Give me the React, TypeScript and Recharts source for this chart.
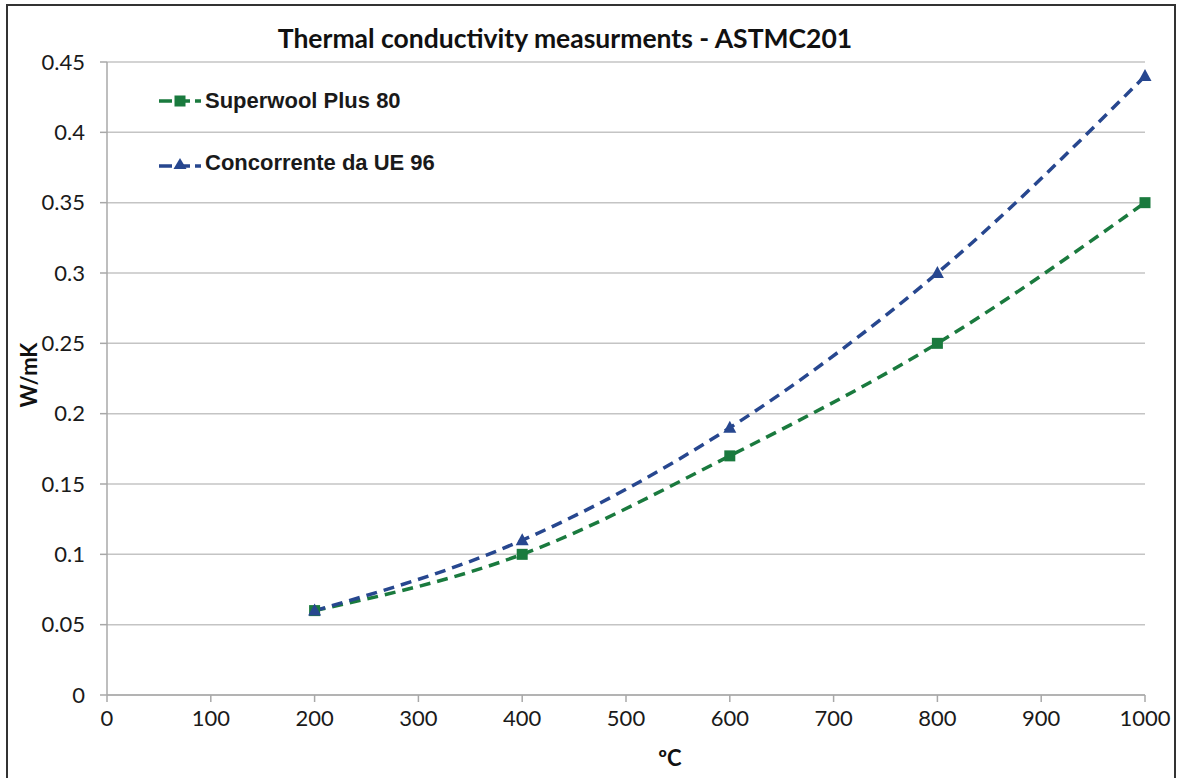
import { LineChart, Line, XAxis, YAxis, CartesianGrid } from 'recharts';

const temps = [200, 400, 600, 800, 1000];
const superwool = [0.06, 0.1, 0.17, 0.25, 0.35];
const concorrente = [0.06, 0.11, 0.19, 0.3, 0.44];
const xTicks = [0, 100, 200, 300, 400, 500, 600, 700, 800, 900, 1000];
const yTicks = [0, 0.05, 0.1, 0.15, 0.2, 0.25, 0.3, 0.35, 0.4, 0.45];
const seriesNames = ['Superwool Plus 80', 'Concorrente da UE 96'];

const GREEN = '#1a7a3e';
const BLUE = '#27478f';

const data = temps.map((t, i) => ({ t, superwool: superwool[i], concorrente: concorrente[i] }));

const tickFont = { fill: '#1a1a1a', fontSize: 22, fontFamily: 'Lato, sans-serif' };

const SquareDot = (props: any) => {
  const { cx, cy } = props;
  return <rect key={`s${cx}`} x={cx - 5.5} y={cy - 5.5} width={11} height={11} fill={GREEN} />;
};

const TriangleDot = (props: any) => {
  const { cx, cy } = props;
  return <polygon key={`t${cx}`} points={`${cx},${cy - 7} ${cx + 6.5},${cy + 5} ${cx - 6.5},${cy + 5}`} fill={BLUE} />;
};

// legend drawn as an overlay so it doesn't eat plot space
const LegendBox = () => (
  <div
    style={{
      position: 'absolute',
      left: 157,
      top: 86,
      fontFamily: '"Liberation Sans", Arial, sans-serif',
      fontWeight: 700,
      fontSize: 22,
      color: '#1a1a1a',
    }}
  >
    <div style={{ display: 'flex', alignItems: 'center', height: 30 }}>
      <svg width={46} height={20}>
        <line x1={2} y1={10} x2={44} y2={10} stroke={GREEN} strokeWidth={3.5} strokeDasharray="13 5" />
        <rect x={17.5} y={4.5} width={11} height={11} fill={GREEN} />
      </svg>
      <span style={{ marginLeft: 2 }}>{seriesNames[0]}</span>
    </div>
    <div style={{ display: 'flex', alignItems: 'center', height: 30, marginTop: 32 }}>
      <svg width={46} height={20}>
        <line x1={2} y1={13} x2={44} y2={13} stroke={BLUE} strokeWidth={3.5} strokeDasharray="13 5" />
        <polygon points="23,5 29.5,16 16.5,16" fill={BLUE} />
      </svg>
      <span style={{ marginLeft: 2 }}>{seriesNames[1]}</span>
    </div>
  </div>
);

export default function App() {
  return (
    <div style={{ position: 'absolute', left: 0, top: 0, width: 1177, height: 778, overflow: 'hidden', background: '#fff' }}>
      <div
        style={{
          position: 'absolute',
          left: 6,
          top: 4,
          width: 1166,
          height: 820,
          border: '2px solid #333',
        }}
      />
      <div style={{ position: 'absolute', left: 0, top: 0 }}>
        <LineChart width={1177} height={778} data={data} margin={{ top: 62, right: 32, bottom: 0, left: 0 }}>
          <CartesianGrid vertical={false} stroke="#c4c4c4" strokeWidth={1.5} />
          <XAxis
            dataKey="t"
            type="number"
            domain={[0, 1000]}
            ticks={xTicks}
            interval={0}
            tick={tickFont}
            stroke="#a8a8a8"
            strokeWidth={1.5}
            tickSize={7}
            tickMargin={8}
            height={83}
          />
          <YAxis
            type="number"
            domain={[0, 0.45]}
            ticks={yTicks}
            interval={0}
            tick={tickFont}
            tickFormatter={(v: number) => String(v)}
            stroke="#a8a8a8"
            strokeWidth={1.5}
            tickSize={7}
            tickMargin={15}
            width={107}
          />
          <Line
            type="monotone"
            dataKey="superwool"
            name={seriesNames[0]}
            stroke={GREEN}
            strokeWidth={3.5}
            strokeDasharray="11 7"
            dot={SquareDot}
            isAnimationActive={false}
          />
          <Line
            type="monotone"
            dataKey="concorrente"
            name={seriesNames[1]}
            stroke={BLUE}
            strokeWidth={3.5}
            strokeDasharray="11 7"
            dot={TriangleDot}
            isAnimationActive={false}
          />
        </LineChart>
      </div>
      <LegendBox />
      <div
        style={{
          position: 'absolute',
          left: 0,
          width: 1130,
          top: 22,
          textAlign: 'center',
          fontFamily: 'Lato, sans-serif',
          fontWeight: 700,
          fontSize: 26.5,
          color: '#111',
        }}
      >
        Thermal conductivity measurments - ASTMC201
      </div>
      <div
        style={{
          position: 'absolute',
          left: 28,
          top: 375,
          transform: 'translate(-50%, -50%) rotate(-90deg)',
          fontFamily: 'Lato, sans-serif',
          fontWeight: 700,
          fontSize: 22,
          color: '#111',
          whiteSpace: 'nowrap',
        }}
      >
        W/mK
      </div>
      <div
        style={{
          position: 'absolute',
          left: 670,
          top: 757,
          transform: 'translate(-50%, -50%)',
          fontFamily: 'Lato, sans-serif',
          fontWeight: 700,
          fontSize: 22,
          color: '#111',
        }}
      >
        ºC
      </div>
    </div>
  );
}
